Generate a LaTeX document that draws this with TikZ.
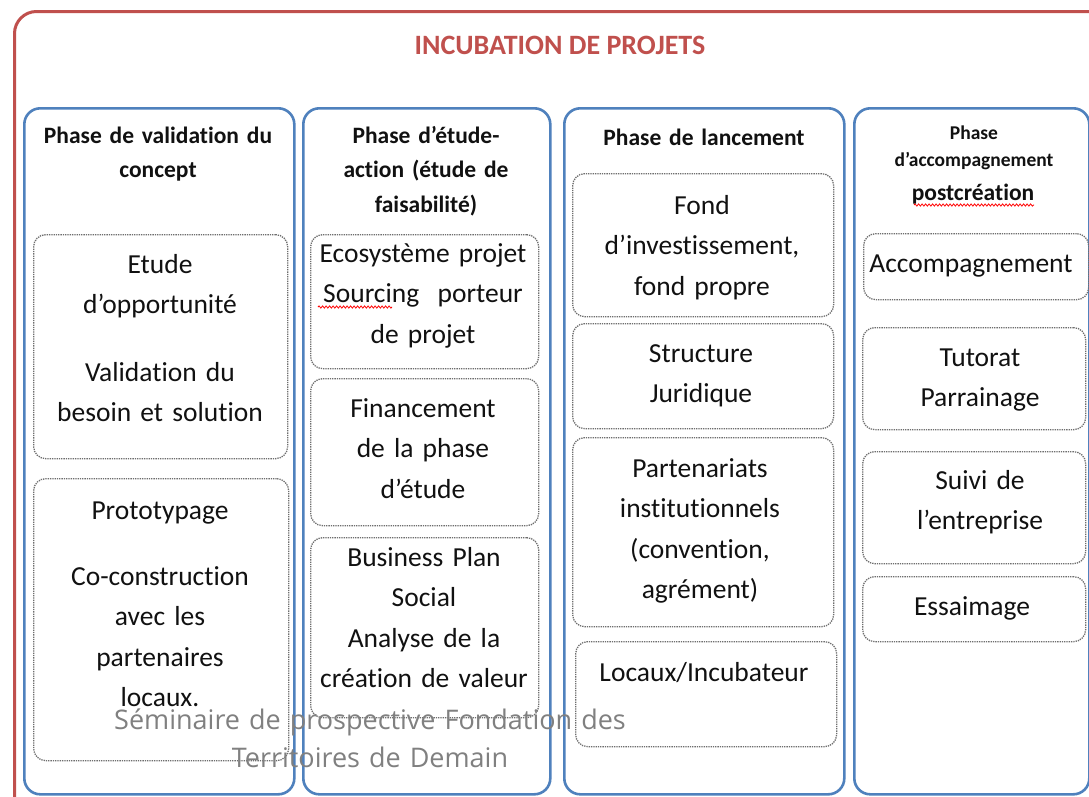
\documentclass[tikz,border=0pt]{standalone}
\usepackage{fontspec}
\setmainfont{Carlito}[Ligatures=NoCommon]
\newfontfamily\wmfont{Open Sans}
\usetikzlibrary{decorations.pathmorphing}
\definecolor{incred}{HTML}{C0504D}
\definecolor{incblue}{HTML}{4F81BD}
\definecolor{dotgray}{HTML}{6E6E6E}
\definecolor{txt}{HTML}{111111}
\definecolor{wmgray}{HTML}{808080}
\tikzset{
  frame/.style={draw=incred, line width=3pt, rounded corners=22pt, anchor=north west, inner sep=0pt},
  phasebox/.style={draw=incblue, line width=2.6pt, rounded corners=16pt, anchor=north west, inner sep=0pt},
  itembox/.style={draw=dotgray, densely dotted, line width=1.3pt, rounded corners=12pt, anchor=north west, inner sep=0pt},
  body/.style={font=\fontsize{27.5}{40.5}\selectfont, text width=280pt, align=center, anchor=base, inner sep=0pt, text=txt},
  head/.style={font=\bfseries\fontsize{23.5}{34.5}\selectfont, text width=280pt, align=center, anchor=base, inner sep=0pt, text=txt},
  smallhead/.style={font=\bfseries\fontsize{19.5}{27}\selectfont, text width=240pt, align=center, anchor=base, inner sep=0pt, text=txt},
  titletext/.style={font=\bfseries\fontsize{28}{34}\selectfont, anchor=base, inner sep=0pt, text=incred},
  watermark/.style={font=\wmfont\fontsize{27}{38}\selectfont, text width=600pt, align=center, anchor=base, inner sep=0pt, text=wmgray},
  squig/.style={draw=red, line width=0.8pt, decorate, decoration={snake, amplitude=1.1pt, segment length=3.5pt}},
}
\begin{document}
\begin{tikzpicture}[x=1pt,y=-1pt]
\useasboundingbox (0,0) rectangle (1089,796);
\clip (0,0) rectangle (1089,796);
\fill[white] (0,0) rectangle (1089,796);
% outer frame
\node[frame, minimum width=1130pt, minimum height=840pt] (frame) at (13,10) {};
\node[titletext] (title) at (560,54) {INCUBATION DE PROJETS};
% phase columns
\node[phasebox, minimum width=270pt, minimum height=686pt] (p1) at (23,107) {};
\node[phasebox, minimum width=247pt, minimum height=686pt] (p2) at (302,107) {};
\node[phasebox, minimum width=280pt, minimum height=686pt] (p3) at (563,107) {};
\node[phasebox, minimum width=235pt, minimum height=686pt] (p4) at (853,107) {};
% headers
\node[head] (h1) at (158,143) {Phase de validation du\\concept};
\node[head] (h2) at (426,143) {Phase d’étude-\\action (étude de\\faisabilité)};
\node[head] (h3) at (704,145) {Phase de lancement};
\node[smallhead] (h4a) at (974,139) {Phase\\d’accompagnement};
\node[head] (h4b) at (973,200) {postcréation};
% column 1
\node[itembox, minimum width=254pt, minimum height=224pt] (bA) at (33,234) {};
\node[body] (tA1) at (160,273) {Etude\\d’opportunité};
\node[body] (tA2) at (160,381) {Validation du\\besoin et solution};
\node[itembox, minimum width=255pt, minimum height=282pt] (bB) at (33,478) {};
\node[body] (tB1) at (160,519) {Prototypage};
\node[body] (tB2) at (160,585) {Co-construction\\avec les\\partenaires\\locaux.};
% column 2
\node[itembox, minimum width=228pt, minimum height=134pt] (bC) at (310,234) {};
\node[body] (tC) at (423,262) {Ecosystème projet\\Sourcing\ \ porteur\\de projet};
\node[itembox, minimum width=228pt, minimum height=147pt] (bD) at (310,378) {};
\node[body] (tD) at (423,417) {Financement\\de la phase\\d’étude};
\node[itembox, minimum width=228pt, minimum height=180pt] (bE) at (310,537) {};
\node[body] (tE) at (424,566) {Business Plan\\Social\\Analyse de la\\création de valeur};
% column 3
\node[itembox, minimum width=261pt, minimum height=143pt] (bF) at (572,173) {};
\node[body] (tF) at (702,214) {Fond\\d’investissement,\\fond propre};
\node[itembox, minimum width=261pt, minimum height=105pt] (bG) at (572,323) {};
\node[body] (tG) at (701,362) {Structure\\Juridique};
\node[itembox, minimum width=261pt, minimum height=189pt] (bH) at (572,437) {};
\node[body] (tH) at (700,477) {Partenariats\\institutionnels\\(convention,\\agrément)};
\node[itembox, minimum width=261pt, minimum height=105pt] (bI) at (575,641) {};
\node[body] (tI) at (704,681) {Locaux/Incubateur};
% column 4
\node[itembox, minimum width=225pt, minimum height=66pt] (bJ) at (863,233) {};
\node[body] (tJ) at (971,272) {Accompagnement};
\node[itembox, minimum width=223pt, minimum height=102pt] (bK) at (862,327) {};
\node[body] (tK) at (980,366) {Tutorat\\Parrainage};
\node[itembox, minimum width=223pt, minimum height=112pt] (bL) at (862,451) {};
\node[body] (tL) at (980,489) {Suivi de\\l’entreprise};
\node[itembox, minimum width=223pt, minimum height=65pt] (bM) at (862,576) {};
\node[body] (tM) at (972,615) {Essaimage};
% spell-check squiggles
\draw[squig] (318,307) -- (392,307);
\draw[squig] (914,205) -- (1034,205);
% watermark
\node[watermark] (wm) at (370,729) {Séminaire de prospective Fondation des\\Territoires de Demain};
\end{tikzpicture}
\end{document}
